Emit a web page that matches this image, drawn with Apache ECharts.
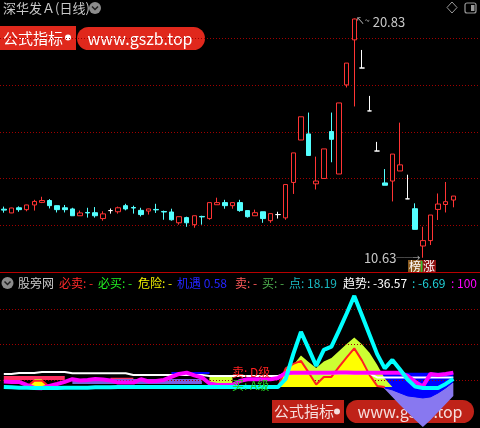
<!DOCTYPE html>
<html><head><meta charset="utf-8">
<script src="https://cdn.jsdelivr.net/npm/echarts@6/dist/echarts.min.js"></script>
<style>html,body{margin:0;padding:0;background:#000;}#c{width:480px;height:428px;}</style>
</head><body><div id="c"></div>
<script>
// ---------- DATA ----------
const categories = ['D01','D02','D03','D04','D05','D06','D07','D08','D09','D10','D11','D12','D13','D14','D15','D16','D17','D18','D19','D20','D21','D22','D23','D24','D25','D26','D27','D28','D29','D30','D31','D32','D33','D34','D35','D36','D37','D38','D39','D40','D41','D42','D43','D44','D45','D46','D47','D48','D49','D50','D51','D52','D53','D54','D55','D56','D57','D58','D59','D60'];
const opens  = [12.70,12.54,12.76,12.68,12.88,12.99,13.07,12.85,12.76,12.71,12.42,12.56,12.55,12.30,12.64,12.59,12.85,12.77,12.65,12.62,12.69,12.60,12.58,12.12,12.34,12.04,12.39,12.30,12.89,12.98,12.85,12.98,12.64,12.42,12.59,12.21,12.47,12.33,13.84,15.65,15.91,13.78,14.01,16.01,14.20,18.00,19.92,18.72,16.89,15.18,13.82,13.90,14.33,13.14,12.72,11.13,11.36,12.69,12.90,13.09];
const closes = [12.66,12.75,12.68,12.88,13.03,13.07,12.85,12.68,12.68,12.42,12.54,12.54,12.42,12.50,12.64,12.76,12.71,12.75,12.47,12.71,12.67,12.58,12.25,12.38,12.12,12.42,12.37,12.98,12.98,12.85,12.98,12.64,12.38,12.55,12.30,12.51,12.47,13.75,15.10,16.64,14.99,13.90,15.27,15.68,17.23,18.93,20.81,18.72,16.89,15.18,13.72,15.05,14.59,13.14,11.84,11.36,12.45,12.92,13.02,13.26];
const lows   = [12.55,12.53,12.59,12.61,12.64,12.96,12.73,12.56,12.56,12.42,12.42,12.34,12.34,12.21,12.51,12.51,12.65,12.51,12.39,12.47,12.54,12.25,12.21,12.04,11.95,11.91,12.04,12.25,12.89,12.72,12.72,12.59,12.34,12.42,12.12,12.12,12.30,12.25,13.35,15.65,14.99,13.54,14.01,14.70,14.20,17.89,17.08,18.72,16.89,15.18,13.72,13.03,14.33,13.14,11.84,10.63,11.17,12.24,12.56,12.78];
const highs  = [12.81,12.76,12.82,12.89,13.10,13.23,13.13,12.86,12.88,12.76,12.64,12.76,12.79,12.61,12.73,12.81,12.93,12.85,12.76,12.72,12.93,12.64,12.72,12.38,12.38,12.42,12.42,12.98,13.19,13.10,12.98,13.10,12.64,12.68,12.59,12.51,12.59,13.75,15.10,16.64,16.82,14.94,15.27,16.82,17.23,18.93,20.83,19.49,17.53,15.57,14.41,15.05,16.39,14.17,12.95,11.95,12.45,13.37,13.86,13.26];
const priceTicks = [12,14,16,18,20];

// lower indicator panel
const _ = null;
const cyanLine    = [-10,-10.5,-11,-11,-11.5,-11.5,-11.5,-11.5,-11,-11,-11,-11,-10.5,-10.5,-10.5,-10,-10,-10,-10,-10,-10,-10,-10,-10,-10,-10,-10,-10,-10,-10,-10,-10,-10,-10,-10,-10,-10,1.4,36.8,67.9,44.3,19.8,42.4,47.1,70,93.9,118.8,91.4,63.9,36.5,16.4,28.3,14.6,0.7,-9.5,-11.3,-11.3,-11.3,-5.7,1.4];
const magentaLine = [-2.4,-2.8,-2.8,-7.1,-11.3,-11.7,-8.5,-5.7,-2.8,1,-0.7,0,1.4,0.7,-0.7,-3.8,-3.8,-3.8,1,-2.1,-1.4,0,4.2,8.5,10.3,6.4,3.5,-5,-7.1,-7.1,-7.1,-1.4,1,1,1,1,2.8,9.9,10.3,10.3,10,10,10.3,10.3,10.6,10.6,10.3,10.3,10,10,10.3,10.3,10,5.7,-2.8,-9.2,8.5,7.1,8.5,10.3];
const whiteLine   = [8.5,8.5,9.9,9.9,9.9,11.3,11.3,11.3,11.3,9.5,9.5,9.5,9.5,9.5,9.5,9.5,9.5,7.1,7.1,7.1,7.1,7.1,7.1,7.1,7.1,7.1,7.1,5.7,5.7,5.7,5.7,5.7,5.7,5.7,5.7,5.7,5.7,9,9,9,9,9,9,9,9,9,9,9,9,3.5,3.5,3.5,3.5,3.5,3.5,3.5,3.5,3.5,3.5,3.5];
const blueLine    = [_,_,_,_,_,_,_,_,_,_,_,_,_,_,_,_,_,_,_,_,_,_,9.9,9.9,9.9,9.9,9.9,9.9,_,_,_,_,_,_,_,_,_,_,_,_,_,_,_,_,_,_,_,_,_,_,_,_,_,_,_,_,_,_,_,_];
const pinkBand    = [5.7,5.7,5.7,5.7,5.7,5.7,5.7,5.7,5.7,_,_,_,_,_,3,3,3,3,_,_,_,_,_,_,_,_,_,3,3,3,3,_,_,_,_,_,_,_,_,_,_,_,_,_,_,_,_,_,_,_,_,_,_,_,_,_,_,_,_,_];
const purpleBand  = [_,_,_,_,_,_,_,_,_,1.4,1.4,1.4,1.4,1.4,1.4,1.4,1.4,1.4,1.4,1.4,1.4,1.4,1.4,1.4,1.4,1.4,1.4,_,_,_,_,_,_,_,_,_,_,_,_,_,_,_,_,_,_,_,_,_,_,_,_,_,_,_,_,_,_,_,_,_];
const limeArea    = [_,_,_,_,1.4,1.4,_,_,_,_,_,_,_,_,_,_,_,_,_,_,_,_,_,_,_,_,_,4,4,4,4,_,_,_,_,_,_,0,21.2,34.7,25.5,17,26.2,31.1,41,50.9,60.1,50.4,38.5,21.4,2.1,-9.9,_,_,_,_,_,_,_,_];
const yellowArea  = [_,_,_,-10,-1,-1,-10,_,_,_,_,_,_,_,_,_,_,_,_,_,_,_,_,_,_,_,_,_,_,_,_,_,_,_,_,_,-10,16.3,22.6,26.9,10.6,-6.4,4.2,4.2,18.4,31.8,44.6,27.6,7.1,-8.5,-10,_,_,_,_,_,_,_,_,_];
const lavenderArea= [_,_,_,_,_,_,_,_,_,_,_,_,_,_,_,_,_,_,_,_,_,_,_,_,_,_,_,_,_,_,_,_,_,_,_,_,_,_,_,_,_,_,_,_,_,_,_,_,_,-4.2,-12.7,-24,-35.4,-46,-56.6,-66.5,-56.6,-45.3,-34,-22.6];
const blueArea    = [_,_,_,_,_,_,_,_,_,_,_,_,_,_,_,_,_,_,_,_,_,_,_,_,_,_,_,_,_,_,_,_,_,_,_,_,_,_,_,_,_,_,_,_,_,_,_,_,_,2.8,-11.3,-14.1,-18.4,-22.6,-24,-25.5,-24,-18.4,-11.3,-2.8];
const indicatorTicks = [0,50,100];

// ---------- CHART ----------
const cats = categories.concat(['', '', '']);
const ohlc = opens.map((o, i) => [o, closes[i], lows[i], highs[i]]);
const FONT = '"Noto Sans CJK SC", "Noto Sans", sans-serif';
const dotted = {color: '#a00000', type: [1, 2], width: 1};

function band(name, data, color, origin, z, lineColor, lineWidth) {
  return {
    name, type: 'line', xAxisIndex: 1, yAxisIndex: 1, data, symbol: 'none',
    connectNulls: false, z, animation: false, silent: true,
    lineStyle: {color: lineColor || color, width: lineWidth || 0},
    areaStyle: {color, opacity: 1, origin}
  };
}
function line(name, data, color, width, z) {
  return {name, type: 'line', xAxisIndex: 1, yAxisIndex: 1, data, symbol: 'none',
    connectNulls: false, z, animation: false, silent: true,
    lineStyle: {color, width}};
}

const chart = echarts.init(document.getElementById('c'), null, {renderer: 'canvas'});
const option = {
  backgroundColor: '#000',
  animation: false,
  grid: [
    {left: 0, right: 0, top: 0, height: 272.5},
    {left: 0, right: 0, top: 288, bottom: 0}
  ],
  xAxis: [
    {type: 'category', data: cats, gridIndex: 0, boundaryGap: true,
      axisLine: {show: true, lineStyle: {color: '#b80000', width: 1}},
      axisTick: {show: false}, axisLabel: {show: false}, splitLine: {show: false}},
    {type: 'category', data: cats, gridIndex: 1, boundaryGap: true,
      axisLine: {show: false}, axisTick: {show: false}, axisLabel: {show: false}, splitLine: {show: false}}
  ],
  yAxis: [
    {type: 'value', gridIndex: 0, min: 10, max: 21.62, interval: 2,
      axisLine: {show: false}, axisTick: {show: false}, axisLabel: {show: false},
      splitLine: {show: true, showMinLine: false, showMaxLine: false, lineStyle: dotted}},
    {type: 'value', gridIndex: 1, min: -68, max: 130,
      axisLine: {show: false}, axisTick: {show: false}, axisLabel: {show: false},
      splitLine: {show: false}}
  ],
  series: [
    {
      name: 'K', type: 'candlestick', xAxisIndex: 0, yAxisIndex: 0, data: ohlc,
      barWidth: 5, clip: false, z: 5,
      itemStyle: {color: '#000000', color0: '#54ffff', borderColor: '#ff3434', borderColor0: '#54ffff',
        borderColorDoji: '#ffffff', borderWidth: 1},
      markPoint: {
        symbol: 'circle', symbolSize: 1, itemStyle: {color: 'transparent'}, silent: true,
        data: [
          {type: 'max', valueDim: 'highest',
            label: {show: true, position: 'right', distance: 1, offset: [0, 4],
              formatter: p => '{a|↖~}{v| ' + p.value.toFixed(2) + '}',
              rich: {a: {fontSize: 9, color: '#c8c8c8', fontFamily: FONT, verticalAlign: 'top'},
                     v: {fontSize: 13, color: '#c8c8c8', fontFamily: FONT}}}},
          {type: 'min', valueDim: 'lowest',
            label: {show: true, position: 'left', distance: 2,
              formatter: p => '{v|' + p.value.toFixed(2) + '}{a|──→}',
              rich: {v: {fontSize: 13, color: '#c8c8c8', fontFamily: FONT},
                     a: {fontSize: 8, color: '#c8c8c8', fontFamily: FONT}}}}
        ]
      }
    },
    band('lavender', lavenderArea, '#8878f0', -4, 2),
    band('blueArea', blueArea, '#0000ff', 10, 3, '#0000ff', 1),
    band('pink', pinkBand, '#ff3060', 0, 3),
    band('purple', purpleBand, '#7a5ee0', -5.7, 3),
    band('lime', limeArea, '#ccff33', -10, 4),
    band('yellow', yellowArea, '#ffff00', -10, 5, '#ff2020', 2),
    line('white', whiteLine, '#ffffff', 2, 6),
    line('blue', blueLine, '#0000ff', 2, 6),
    line('magenta', magentaLine, '#ff00ff', 4, 7),
    Object.assign(line('cyan', cyanLine, '#00ffff', 4, 8), {
      markLine: {silent: true, symbol: 'none', label: {show: false}, lineStyle: dotted,
        data: indicatorTicks.map(v => ({yAxis: v}))}
    })
  ],
  graphic: [
    // top header
    {type: 'text', x: 3, y: 8, style: {text: '深华发Ａ(日线)', fill: '#c8c8c8', font: '13px ' + FONT, textVerticalAlign: 'middle', verticalAlign: 'middle'}},
    {type: 'circle', shape: {cx: 95, cy: 8, r: 6}, style: {fill: '#8c8c8c'}},
    {type: 'polyline', shape: {points: [[92, 6.5], [95, 9.5], [98, 6.5]]}, style: {stroke: '#202020', lineWidth: 1.5, fill: null}},
    // top-right icons
    {type: 'polygon', shape: {points: [[452, 2], [457, 7.5], [452, 13], [447, 7.5]]}, style: {fill: null, stroke: '#9a9a9a', lineWidth: 1}},
    {type: 'rect', shape: {x: 465, y: 3, width: 11, height: 10, r: 2}, style: {fill: null, stroke: '#9a9a9a', lineWidth: 1.2}},
    {type: 'rect', shape: {x: 471, y: 5, width: 3.5, height: 6}, style: {fill: '#9a9a9a'}},
    // top banner
    {type: 'rect', shape: {x: 0, y: 26, width: 76, height: 24}, style: {fill: '#e0281c'}},
    {type: 'text', x: 3, y: 38, style: {text: '公式指标', fill: '#ffffff', font: '15px ' + FONT, textVerticalAlign: 'middle', verticalAlign: 'middle'}},
    {type: 'circle', shape: {cx: 68, cy: 37.5, r: 3}, style: {fill: '#ffffff'}},
    {type: 'rect', shape: {x: 77, y: 27, width: 128, height: 23, r: 11.5}, style: {fill: '#e0281c'}},
    {type: 'text', x: 140, y: 38.5, style: {text: 'www.gszb.top', fill: '#ffffff', font: '16px ' + FONT, textAlign: 'center', align: 'center', textVerticalAlign: 'middle', verticalAlign: 'middle'}},
    // low badge
    {type: 'rect', shape: {x: 408, y: 260, width: 14, height: 13}, style: {fill: '#8a5a1e'}},
    {type: 'rect', shape: {x: 422, y: 260, width: 14, height: 13}, style: {fill: '#8c1010'}},
    {type: 'rect', shape: {x: 421, y: 261, width: 1.5, height: 11}, style: {fill: '#30c030'}},
    {type: 'text', x: 415, y: 266.5, style: {text: '榜', fill: '#ffffff', font: '12px ' + FONT, textAlign: 'center', align: 'center', textVerticalAlign: 'middle', verticalAlign: 'middle'}},
    {type: 'text', x: 429, y: 266.5, style: {text: '涨', fill: '#ffffff', font: '12px ' + FONT, textAlign: 'center', align: 'center', textVerticalAlign: 'middle', verticalAlign: 'middle'}},
    // lower header
    {type: 'circle', shape: {cx: 7.5, cy: 283, r: 6}, style: {fill: '#8c8c8c'}},
    {type: 'polyline', shape: {points: [[4.5, 281.5], [7.5, 284.5], [10.5, 281.5]]}, style: {stroke: '#202020', lineWidth: 1.5, fill: null}},
    {type: 'text', x: 18, y: 283, style: {text: '股旁网', fill: '#c8c8c8', font: '12px ' + FONT, textVerticalAlign: 'middle', verticalAlign: 'middle'}},
    {type: 'text', x: 59, y: 283, style: {text: '必卖: -', fill: '#ff2a2a', font: '12px ' + FONT, textVerticalAlign: 'middle', verticalAlign: 'middle'}},
    {type: 'text', x: 98, y: 283, style: {text: '必买: -', fill: '#22ee22', font: '12px ' + FONT, textVerticalAlign: 'middle', verticalAlign: 'middle'}},
    {type: 'text', x: 138, y: 283, style: {text: '危险: -', fill: '#f0f000', font: '12px ' + FONT, textVerticalAlign: 'middle', verticalAlign: 'middle'}},
    {type: 'text', x: 177, y: 283, style: {text: '机遇 0.58', fill: '#2424ff', font: '12px ' + FONT, textVerticalAlign: 'middle', verticalAlign: 'middle'}},
    {type: 'text', x: 235, y: 283, style: {text: '卖: -', fill: '#ff5a5a', font: '12px ' + FONT, textVerticalAlign: 'middle', verticalAlign: 'middle'}},
    {type: 'text', x: 262, y: 283, style: {text: '买: -', fill: '#50b050', font: '12px ' + FONT, textVerticalAlign: 'middle', verticalAlign: 'middle'}},
    {type: 'text', x: 289, y: 283, style: {text: '点: 18.19', fill: '#1ab8c0', font: '12px ' + FONT, textVerticalAlign: 'middle', verticalAlign: 'middle'}},
    {type: 'text', x: 343, y: 283, style: {text: '趋势: -36.57', fill: '#ffffff', font: '12px ' + FONT, textVerticalAlign: 'middle', verticalAlign: 'middle'}},
    {type: 'text', x: 412, y: 283, style: {text: ': -6.69', fill: '#20d0d8', font: '12px ' + FONT, textVerticalAlign: 'middle', verticalAlign: 'middle'}},
    {type: 'text', x: 451, y: 283, style: {text: ': 100', fill: '#ff00ff', font: '12px ' + FONT, textVerticalAlign: 'middle', verticalAlign: 'middle'}},
    // in-panel labels
    {type: 'text', x: 232, y: 372, z: 20, style: {text: '卖: D级', fill: '#ff2020', font: '12px ' + FONT, textVerticalAlign: 'middle', verticalAlign: 'middle'}},
    {type: 'text', x: 232, y: 385, z: 20, style: {text: '买: A级', fill: '#20d020', font: '12px ' + FONT, textVerticalAlign: 'middle', verticalAlign: 'middle'}},
    // bottom banner
    {type: 'group', z: 30, children: [
      {type: 'rect', shape: {x: 272, y: 400, width: 72, height: 23}, style: {fill: 'rgba(224,40,28,0.85)'}},
      {type: 'text', x: 274, y: 411.5, style: {text: '公式指标', fill: 'rgba(255,255,255,0.85)', font: '15px ' + FONT, textVerticalAlign: 'middle', verticalAlign: 'middle'}},
      {type: 'circle', shape: {cx: 337, cy: 411.5, r: 3}, style: {fill: 'rgba(255,255,255,0.85)'}},
      {type: 'rect', shape: {x: 346, y: 400, width: 128, height: 23, r: 11.5}, style: {fill: 'rgba(224,40,28,0.85)'}},
      {type: 'text', x: 410, y: 412, style: {text: 'www.gszb.top', fill: 'rgba(255,255,255,0.85)', font: '16px ' + FONT, textAlign: 'center', align: 'center', textVerticalAlign: 'middle', verticalAlign: 'middle'}}
    ]}
  ]
};
chart.setOption(option);
</script>
</body></html>
